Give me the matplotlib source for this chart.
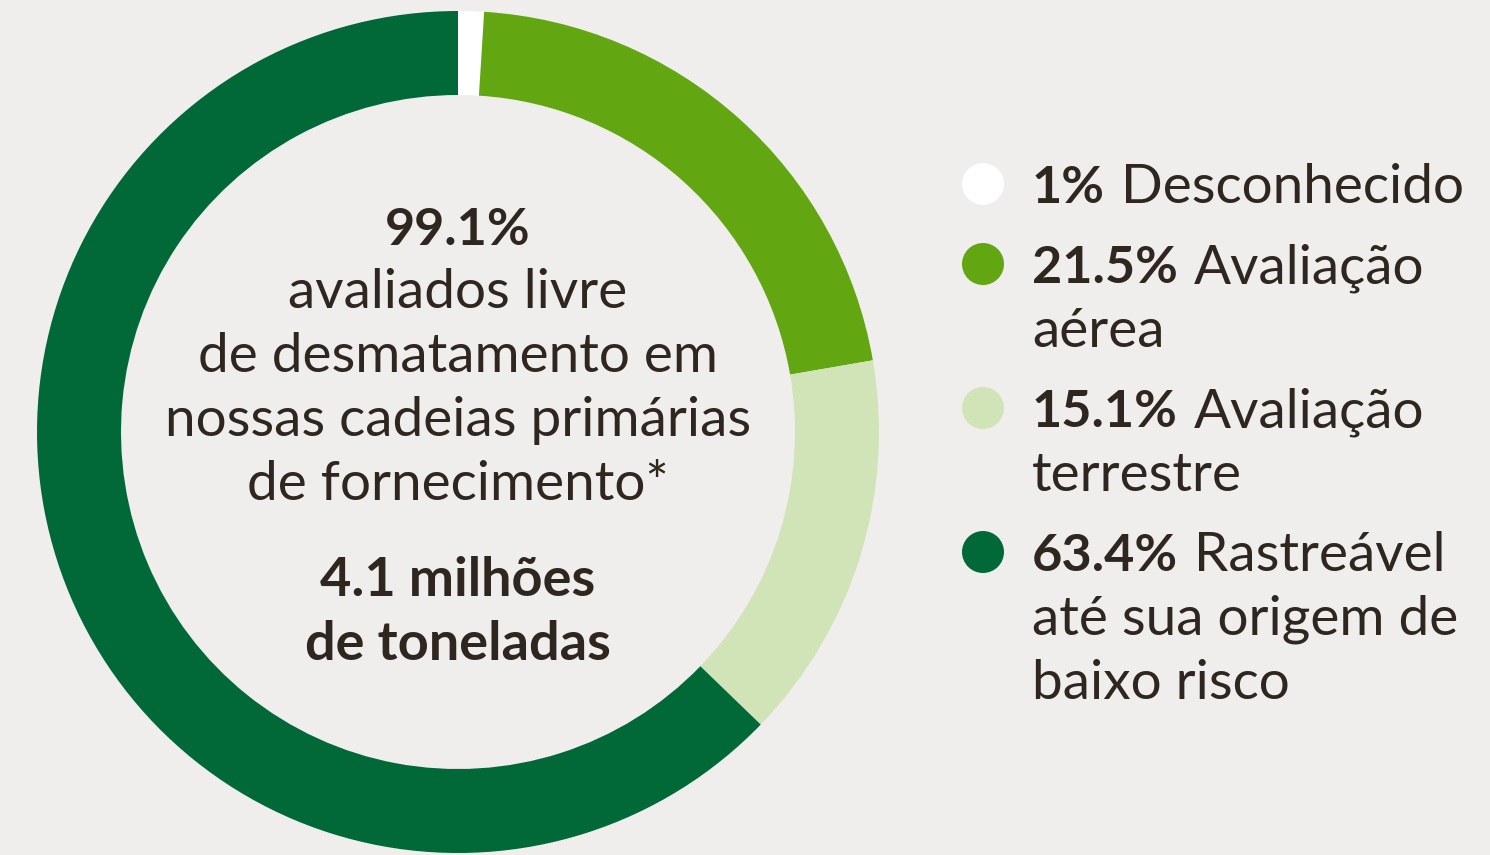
import matplotlib.pyplot as plt
from matplotlib.patches import Circle

# data
labels_pct = ["1%", "21.5%", "15.1%", "63.4%"]
labels_txt = [["Desconhecido"], ["Avaliação", "aérea"], ["Avaliação", "terrestre"],
              ["Rastreável", "até sua origem de", "baixo risco"]]
values = [1, 21.5, 15.1, 63.4]
colors = ["#FFFFFF", "#62A612", "#D1E4B8", "#006937"]

center_lines = ["avaliados livre", "de desmatamento em", "nossas cadeias primárias",
                "de fornecimento*"]

bg = "#EFEEEC"
ink = "#2F2620"
plt.rcParams['font.family'] = ['Lato', 'DejaVu Sans']
fs_b = 37.5   # bold
fs_r = 39.5   # regular

W, H = 1490, 855
fig = plt.figure(figsize=(W / 100, H / 100), dpi=100, facecolor=bg)
ax = fig.add_axes([0, 0, 1, 1])

cx, cy, r = 458, H - 432, 421
ax.pie(values, colors=colors, startangle=90, counterclock=False,
       center=(cx, cy), radius=r, frame=True,
       wedgeprops=dict(width=r - 337, linewidth=0))
ax.set_xlim(0, W)
ax.set_ylim(0, H)
ax.axis('off')

# centre text
ax.text(cx, H - 245, "99.1%", ha='center', va='baseline', fontsize=fs_b,
        fontweight='bold', color=ink)
for i, line in enumerate(center_lines):
    ax.text(cx, H - (308 + i * 64), line, ha='center', va='baseline',
            fontsize=fs_r, color=ink)
ax.text(cx, H - 596, "4.1 milhões", ha='center', va='baseline', fontsize=fs_b + 1.5,
        fontweight='bold', color=ink)
ax.text(cx, H - 660, "de toneladas", ha='center', va='baseline', fontsize=fs_b + 1.5,
        fontweight='bold', color=ink)

# legend
fig.canvas.draw()
renderer = fig.canvas.get_renderer()
baselines = [203, 283, 427, 571]
tx = 1032
for pct, txt, col, b in zip(labels_pct, labels_txt, colors, baselines):
    ax.add_patch(Circle((983, H - b + 19), 21, facecolor=col, edgecolor='none'))
    t = ax.text(tx, H - b, pct, ha='left', va='baseline', fontsize=fs_b,
                fontweight='bold', color=ink)
    bb = t.get_window_extent(renderer)
    ax.text(bb.x1 + 16, H - b, txt[0], ha='left', va='baseline', fontsize=fs_r,
            color=ink)
    for j, extra in enumerate(txt[1:]):
        ax.text(tx, H - b - 64 * (j + 1), extra, ha='left', va='baseline',
                fontsize=fs_r, color=ink)

fig.savefig("out.png", dpi=100, facecolor=bg)
